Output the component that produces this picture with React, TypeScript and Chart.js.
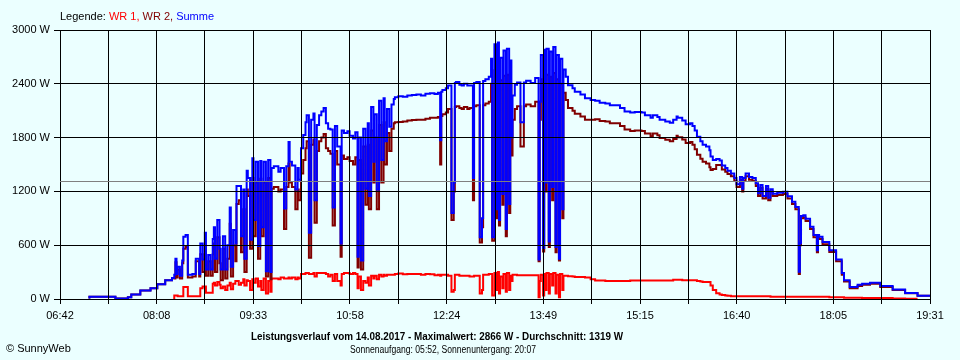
import React, { useEffect, useRef } from "react";
import { Chart, registerables } from "chart.js";

Chart.register(...registerables);

// ---- axis / labels ----
const X_MIN = 402; // 06:42 in minutes since midnight
const X_MAX = 1171; // 19:31
const X_DIVISIONS = 18;
const X_TICK_LABELS = ["06:42", "08:08", "09:33", "10:58", "12:24", "13:49", "15:15", "16:40", "18:05", "19:31"];
const Y_MAX = 3000;
const Y_STEP = 600;
const AVERAGE = 1319;
const SERIES_NAMES = ["WR 1", "WR 2", "Summe"];
const LEGEND_PREFIX = "Legende: ";
const TITLE = "Leistungsverlauf vom 14.08.2017 - Maximalwert: 2866 W - Durchschnitt: 1319 W";
const SUBTITLE = "Sonnenaufgang: 05:52, Sonnenuntergang: 20:07";
const CREDIT = "\u00A9 SunnyWeb";

// ---- data: time (minutes since midnight) and power in W ----
const TIMES = [
  428, 451, 462, 465, 473, 482, 488, 495, 501, 503,
  504, 505, 506, 508, 510, 511, 513, 515, 519, 522, 525, 526, 528, 530, 531, 533, 535, 537, 538, 539, 541, 543, 544, 546, 548, 550, 552, 553, 555, 557, 558, 560, 562, 564, 565, 567, 568, 570, 572, 573, 575, 577, 579,
  580, 582, 584, 586, 588, 589, 591, 595, 597, 600, 602, 604, 605, 607, 610, 612, 613, 615,
  617, 619, 620, 622, 624, 626, 627, 629, 631, 633, 635, 637, 639, 641, 643, 645, 647, 650, 651, 653, 656, 658, 661, 663, 665, 666, 668, 670,
  672, 674, 675, 677, 679, 680, 682, 684, 686, 688, 689, 691, 693, 695, 697, 698,
  701, 705, 709, 713, 717, 721, 725, 729, 733, 736, 738, 739, 740, 743, 745, 748, 750, 751, 752, 755, 757, 759, 762, 764,
  767, 768, 770, 773, 775, 776, 778, 781, 783, 784, 786, 788, 789, 790, 791, 793, 794, 796, 797, 799, 800, 801, 802, 804, 806, 809, 812, 814, 818, 822, 825, 826, 827, 829, 830, 831, 832, 834, 835, 837, 838, 840, 841, 843, 844, 846, 847, 849, 851, 855,
  857, 862, 866, 871, 875, 879, 884, 888, 893, 897, 901, 906, 910, 916, 919, 924, 926, 930, 932, 937, 941, 944, 947, 948, 952, 955, 959, 961, 963, 965, 968, 970, 973, 976, 977, 979, 982, 985, 987, 990, 992, 995, 998, 1000,
  1003, 1005, 1006, 1008, 1011, 1014, 1017, 1019, 1021, 1023, 1026, 1028, 1030, 1032, 1036, 1041, 1045, 1049, 1052, 1055, 1056, 1057, 1059, 1061, 1065, 1068, 1071, 1072, 1073, 1076, 1082, 1088, 1093, 1095, 1100, 1107, 1111, 1118, 1127, 1138, 1149, 1160, 1171,
];

const WR1 = [
  null, null, null, null, null, null, null, null, null, 0,
  40, 40, 40, 30, 30, 30, 135, 135, 30, 30, 30, 30, 120, 140, 140, 70, 70, 70, 170, 180, 150, 190, 160, 120, 140, 100, 150, 180, 110, 170, 200, 200, 160, 180, 220, 150, 210, 200, 100, 220, 180, 230, 140,
  200, 100, 230, 60, 200, 80, 230, 230, 220, 240, 230, 230, 240, 230, 240, 220, 240, 230,
  280, 280, 290, 290, 280, 280, 290, 250, 290, 290, 290, 290, 280, 250, 270, 200, 280, 200, 150, 280, 290, 290, 280, 290, 280, 120, 250, 100,
  200, 180, 240, 150, 260, 230, 260, 220, 270, 250, 270, 260, 270, 270, 270, 270,
  280, 285, 275, 280, 280, 280, 270, 280, 275, 265, 270, 260, 270, 270, 270, 260, 80, 100, 270, 270, 260, 260, 260, 260,
  250, 250, 260, 260, 60, 100, 270, 270, 280, 280, 40, 290, 100, 300, 60, 250, 120, 280, 80, 290, 100, 260, 200, 270, 270, 265, 265, 265, 265, 265, 265, 20, 200, 270, 40, 280, 100, 290, 60, 280, 150, 290, 60, 270, 20, 280, 100, 260, 260, 255,
  250, 245, 245, 240, 220, 205, 205, 200, 200, 200, 200, 200, 205, 205, 205, 205, 205, 205, 205, 205, 205, 205, 215, 215, 215, 210, 210, 210, 210, 210, 200, 195, 190, 190, 190, 150, 100, 65, 50, 45, 40, 35, 30, 30,
  30, 30, 30, 30, 30, 30, 30, 30, 30, 30, 30, 30, 30, 25, 25, 25, 25, 25, 25, 25, 25, 25, 25, 25, 25, 25, 25, 25, 25, 25, 25, 20, 20, 20, 15, 15, 15, 10, 10, 10, 5, 3, null,
];

const WR2 = [
  5, 25, 5, 20, 50, 95, 120, 165, 210, 235,
  230, 410, 240, 330, 230, 400, 560, 580, 240, 250, 420, 250, 500, 300, 600, 260, 420, 260, 500, 620, 300, 690, 400, 210, 560, 230, 450, 840, 250, 600, 420, 1060, 1100, 520, 1000, 300, 1220, 1150, 560, 1350, 700, 1300, 450,
  1340, 700, 1300, 250, 1350, 220, 1230, 1250, 1200, 1220, 780, 1250, 1510, 1300, 1250, 1000, 1220, 1100,
  1400, 1550, 1680, 1760, 460, 1720, 1780, 850, 1650, 1760, 1800, 1840, 1680, 1650, 1620, 820, 1650, 1500, 470, 1600, 1560, 1580, 1540, 1500, 1580, 350, 1550, 330,
  1700, 1050, 1720, 1000, 1880, 1300, 1800, 1000, 1940, 1300, 1970, 1500, 1850, 1650, 1900, 1960,
  1970, 1975, 1980, 1990, 1995, 2000, 2000, 2010, 2020, 2020, 2030, 1500, 2040, 2060, 2080, 2120, 880, 1200, 2140, 2150, 2130, 2120, 2140, 2120,
  2130, 1100, 2150, 2160, 630, 800, 2160, 2180, 2200, 2400, 650, 2550, 900, 2560, 820, 2440, 1050, 2490, 700, 2500, 960, 2400, 1600, 2000, 2120, 2150, 1700, 2150, 2170, 2150, 2200, 420, 2000, 2450, 530, 2500, 1200, 2500, 580, 2480, 1100, 2520, 520, 2450, 430, 2400, 900, 2300, 2220, 2130,
  2100, 2065, 2035, 2000, 2000, 2005, 1985, 1980, 1960, 1960, 1930, 1890, 1875, 1880, 1875, 1845, 1815, 1845, 1825, 1795, 1775, 1760, 1785, 1820, 1805, 1780, 1740, 1750, 1720, 1670, 1610, 1565, 1530, 1510, 1470, 1440, 1450, 1495, 1495, 1445, 1420, 1395, 1370, 1320,
  1250, 1330, 1200, 1320, 1370, 1330, 1320, 1260, 1150, 1240, 1120, 1230, 1100, 1200, 1150, 1160, 1170, 1120, 1060, 1000, 280, 600, 900, 910, 870, 780, 690, 520, 690, 670, 610, 525, 420, 270, 195, 120, 145, 160, 170, 135, 100, 65, 35,
];

const SUMME = [
  5, 25, 5, 20, 50, 95, 120, 165, 210, 235,
  270, 450, 280, 360, 260, 430, 695, 715, 270, 280, 450, 280, 620, 440, 740, 330, 490, 330, 670, 800, 450, 880, 560, 330, 700, 330, 600, 1020, 360, 770, 620, 1260, 1260, 700, 1220, 450, 1430, 1350, 660, 1570, 880, 1530, 590,
  1540, 800, 1530, 310, 1550, 300, 1460, 1480, 1420, 1460, 1010, 1480, 1750, 1530, 1490, 1220, 1460, 1330,
  1680, 1830, 1970, 2050, 740, 2000, 2070, 1100, 1940, 2050, 2090, 2130, 1960, 1900, 1890, 1020, 1930, 1700, 620, 1880, 1850, 1870, 1820, 1790, 1860, 470, 1800, 430,
  1900, 1230, 1960, 1150, 2140, 1530, 2060, 1220, 2210, 1550, 2240, 1760, 2120, 1920, 2170, 2230,
  2250, 2260, 2255, 2270, 2275, 2280, 2270, 2290, 2295, 2285, 2300, 1770, 2310, 2330, 2350, 2380, 960, 1300, 2410, 2420, 2390, 2380, 2400, 2380,
  2380, 1350, 2410, 2420, 690, 900, 2430, 2450, 2480, 2680, 690, 2840, 1000, 2860, 880, 2690, 1170, 2770, 780, 2790, 1060, 2660, 1800, 2270, 2390, 2415, 1970, 2415, 2435, 2410, 2465, 440, 2200, 2720, 570, 2780, 1300, 2790, 640, 2760, 1250, 2810, 580, 2720, 450, 2680, 1000, 2560, 2480, 2385,
  2350, 2310, 2280, 2240, 2220, 2210, 2190, 2180, 2160, 2160, 2130, 2090, 2080, 2085, 2080, 2050, 2020, 2050, 2030, 2000, 1980, 1965, 2000, 2035, 2020, 1990, 1950, 1960, 1930, 1880, 1810, 1760, 1720, 1700, 1660, 1590, 1550, 1560, 1545, 1490, 1460, 1430, 1400, 1350,
  1280, 1360, 1230, 1350, 1400, 1360, 1350, 1290, 1180, 1270, 1150, 1260, 1130, 1225, 1175, 1185, 1195, 1145, 1085, 1025, 305, 625, 925, 935, 895, 805, 715, 545, 715, 695, 635, 545, 440, 290, 210, 135, 160, 170, 180, 145, 105, 68, 35,
];

// ---- styles ----
const FONT = '"Liberation Sans", Arial, Helvetica, sans-serif';
const BG = "#EBFFFF";
const SERIES_COLORS = ["#FF0000", "#800000", "#0000FF"];

const toPoints = (vals: (number | null)[]) => TIMES.map((t, i) => ({ x: t, y: vals[i] }));

const textPlugin = {
  id: "sunnyText",
  afterDraw(chart: any) {
    const { ctx, chartArea, scales } = chart;
    ctx.save();
    const yAvg = Math.round(scales.y.getPixelForValue(AVERAGE)) + 0.5;
    ctx.strokeStyle = "#808080";
    ctx.lineWidth = 1;
    ctx.beginPath();
    ctx.moveTo(chartArea.left, yAvg);
    ctx.lineTo(chartArea.right, yAvg);
    ctx.stroke();

    ctx.font = `11px ${FONT}`;
    ctx.textBaseline = "middle";
    ctx.textAlign = "left";
    let x = chartArea.left;
    const parts: [string, string][] = [[LEGEND_PREFIX, "#000000"]];
    SERIES_NAMES.forEach((n, i) => parts.push([n + (i < SERIES_NAMES.length - 1 ? ", " : ""), SERIES_COLORS[i]]));
    for (const [t, c] of parts) {
      ctx.fillStyle = c;
      ctx.fillText(t, x, 17);
      x += ctx.measureText(t).width;
    }

    ctx.fillStyle = "#000000";
    ctx.textAlign = "center";
    ctx.font = `bold 11px ${FONT}`;
    ctx.fillText(TITLE, 437, 337, 372);
    ctx.font = `10px ${FONT}`;
    ctx.fillText(SUBTITLE, 443, 350, 186);
    ctx.textAlign = "left";
    ctx.font = `11px ${FONT}`;
    ctx.fillText(CREDIT, 6, 349);
    ctx.restore();
  },
};

export default function App() {
  const ref = useRef<HTMLCanvasElement>(null);
  useEffect(() => {
    if (!ref.current) return;
    Chart.defaults.font.family = FONT;
    Chart.defaults.font.size = 11;
    Chart.defaults.color = "#000000";
    const datasets = [
      { label: SERIES_NAMES[2], data: toPoints(SUMME), borderColor: SERIES_COLORS[2], order: 0 },
      { label: SERIES_NAMES[1], data: toPoints(WR2), borderColor: SERIES_COLORS[1], order: 1 },
      { label: SERIES_NAMES[0], data: toPoints(WR1), borderColor: SERIES_COLORS[0], order: 2 },
    ].map((d) => ({ ...d, borderWidth: 2, pointRadius: 0, stepped: "after" as const, fill: false, spanGaps: false }));

    const chart = new Chart(ref.current, {
      type: "line",
      data: { datasets },
      options: {
        responsive: false,
        animation: false,
        events: [],
        layout: { padding: { left: 0, right: 30, top: 30, bottom: 0 } },
        plugins: { legend: { display: false }, tooltip: { enabled: false } },
        scales: {
          x: {
            type: "linear",
            min: X_MIN,
            max: X_MAX,
            afterBuildTicks: (scale: any) => {
              scale.ticks = Array.from({ length: X_DIVISIONS + 1 }, (_, k) => ({
                value: X_MIN + (k * (X_MAX - X_MIN)) / X_DIVISIONS,
              }));
            },
            afterFit: (scale: any) => {
              scale.height = 61;
            },
            ticks: {
              autoSkip: false,
              maxRotation: 0,
              minRotation: 0,
              padding: 5,
              color: "#000000",
              callback: (_v: any, i: number) => (i % 2 === 0 ? X_TICK_LABELS[i / 2] : ""),
            },
            grid: { color: "#000000", lineWidth: 1, tickLength: 5, z: 1 },
            border: { display: false },
          },
          y: {
            min: 0,
            max: Y_MAX,
            afterFit: (scale: any) => {
              scale.width = 60;
            },
            ticks: {
              stepSize: Y_STEP,
              padding: 4,
              color: "#000000",
              callback: (v: any) => `${v} W`,
            },
            grid: { color: "#000000", lineWidth: 1, tickLength: 6, z: 1 },
            border: { display: false },
          },
        },
      },
      plugins: [textPlugin],
    } as any);
    return () => chart.destroy();
  }, []);

  return (
    <div style={{ position: "fixed", left: 0, top: 0, width: 960, height: 360, background: BG }}>
      <canvas ref={ref} width={960} height={360} style={{ display: "block", width: 960, height: 360 }} />
    </div>
  );
}
